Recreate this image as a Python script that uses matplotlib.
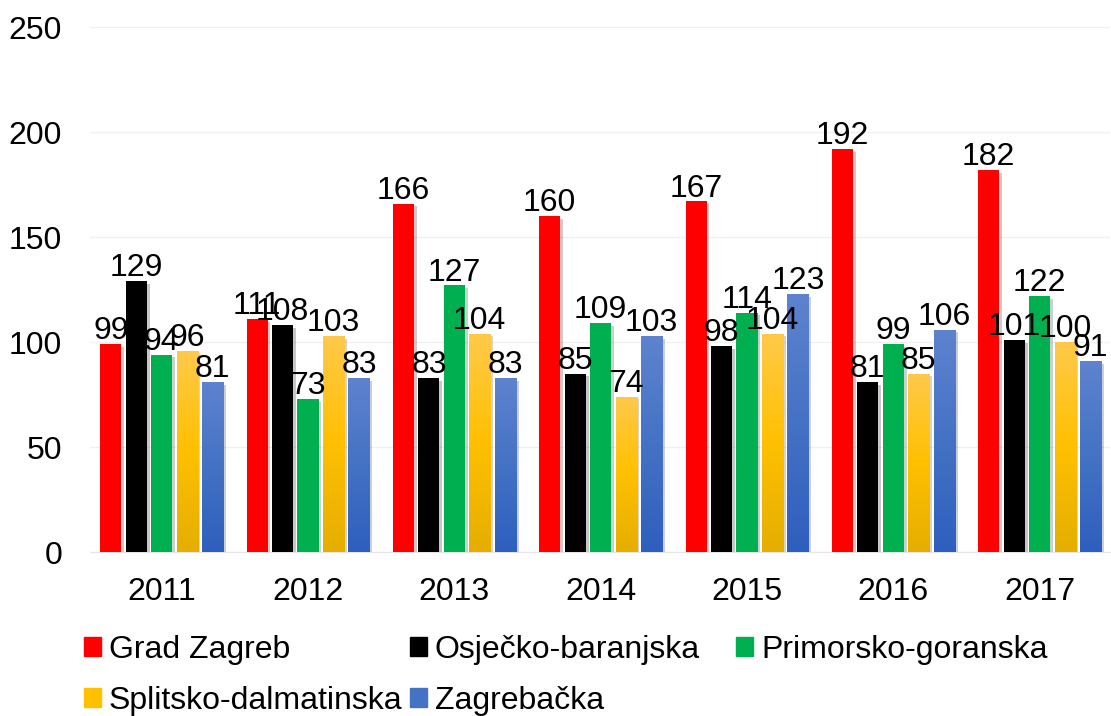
import numpy as np
import matplotlib.pyplot as plt
import matplotlib.patheffects as pe
from matplotlib.patches import Rectangle
from matplotlib.colors import LinearSegmentedColormap

plt.rcParams['font.family'] = ['Liberation Sans', 'DejaVu Sans']

years = ['2011', '2012', '2013', '2014', '2015', '2016', '2017']
series = ['Grad Zagreb', 'Osječko-baranjska', 'Primorsko-goranska',
          'Splitsko-dalmatinska', 'Zagrebačka']
grad_zagreb = [99, 111, 166, 160, 167, 192, 182]
osijecko = [129, 108, 83, 85, 98, 81, 101]
primorsko = [94, 73, 127, 109, 114, 99, 122]
splitsko = [96, 103, 104, 74, 104, 85, 100]
zagrebacka = [81, 83, 83, 103, 123, 106, 91]
values = [grad_zagreb, osijecko, primorsko, splitsko, zagrebacka]

colors = ['#FF0000', '#000000', '#00B050', '#FFC000', '#4472C4']
# gradients (top -> bottom) for the two shaded series
grads = {3: ['#FFC94A', '#FFC000', '#E5AE00'],
         4: ['#5E83CF', '#4472C4', '#2F5FBE']}

FS = 23
fig = plt.figure(figsize=(11.11, 7.16), dpi=100)
ax = fig.add_axes([0.081, 0.229, 0.918, 0.733])

x = np.arange(len(years))
slot = 0.174
width = 0.144
shadow = [pe.SimplePatchShadow(offset=(2, -2), alpha=0.22), pe.Normal()]

for i, (name, vals) in enumerate(zip(series, values)):
    pos = x + (i - 2) * slot
    bars = ax.bar(pos, vals, width, color=colors[i], label=name, zorder=3)
    for b in bars:
        b.set_path_effects(shadow)
    if i in grads:
        cmap = LinearSegmentedColormap.from_list('g%d' % i, grads[i])
        for b in bars:
            x0, y0 = b.get_x(), b.get_y()
            w, h = b.get_width(), b.get_height()
            im = ax.imshow(np.linspace(0, 1, 100).reshape(-1, 1), cmap=cmap,
                           extent=[x0, x0 + w, y0, y0 + h], aspect='auto',
                           origin='upper', zorder=4)
            im.set_clip_path(b)
    for px, v in zip(pos, vals):
        ax.text(px, v - 1, str(v), ha='center', va='bottom', fontsize=FS,
                color='black', zorder=5)

ax.set_xlim(-0.49, 6.48)
ax.set_ylim(0, 250)
ax.set_yticks(np.arange(0, 251, 50))
ax.set_xticks(x)
ax.set_xticklabels(years)
ax.tick_params(axis='both', length=0, labelsize=FS)
ax.tick_params(axis='y', pad=20)
ax.tick_params(axis='x', pad=18)
ax.grid(axis='y', color='#F0F0F0', lw=1, zorder=0)
for s in ['top', 'right', 'left']:
    ax.spines[s].set_visible(False)
ax.spines['bottom'].set_color('#E6E6E6')

# legend: one entry per slot, equal-width columns like the original
handles = [Rectangle((0, 0), 1, 1, color=c) for c in colors]
col_x = [0.0756, 0.369, 0.6625]
row_y = [0.0922, 0.0209]
for k in range(len(series)):
    r, c = divmod(k, 3)
    fig.legend([handles[k]], [series[k]], loc='center left',
               bbox_to_anchor=(col_x[c], row_y[r]), frameon=False,
               fontsize=FS, handlelength=0.53, handleheight=0.53,
               handletextpad=0.25, borderpad=0, borderaxespad=0)

fig.savefig('out.png', dpi=100)
